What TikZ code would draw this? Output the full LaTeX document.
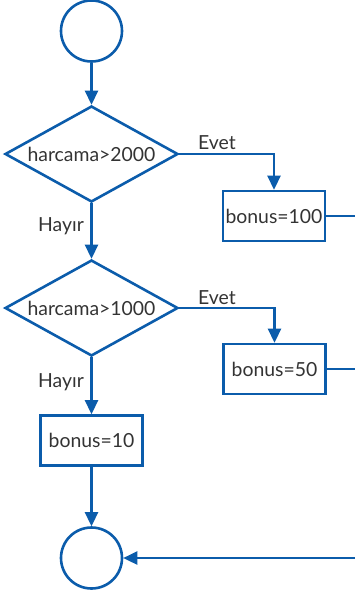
\documentclass[tikz,border=0pt]{standalone}
\usepackage{fontspec}
\setmainfont{Lato}
\usetikzlibrary{shapes.geometric,arrows.meta}
\definecolor{fblue}{HTML}{0B5CAB}
\definecolor{ftext}{HTML}{333333}
\begin{document}
\begin{tikzpicture}[x=1pt,y=-1pt,
  every node/.style={text=ftext,font=\fontsize{19.4}{22}\selectfont},
  conn/.style={draw=fblue,line width=2.6pt},
  arr/.style={conn,-{Triangle[length=14pt,width=13pt]}},
  term/.style={circle,draw=fblue,line width=2.6pt,minimum size=61pt,inner sep=0pt},
  dec/.style={diamond,draw=fblue,line width=2.6pt,aspect=1.78,minimum width=173pt,minimum height=96pt,inner sep=0pt},
  proc/.style={rectangle,draw=fblue,line width=2.6pt,minimum width=102pt,minimum height=50pt,inner sep=0pt},
  lbl/.style={inner sep=0pt}]
\useasboundingbox (0,0) rectangle (354,598);
\node[term] (start) at (91.5,31) {};
\node[dec] (d1) at (91.5,154) {harcama>2000};
\node[proc] (b1) at (274,216) {bonus=100};
\node[dec] (d2) at (91.5,308) {harcama>1000};
\node[proc] (b2) at (274.5,369) {bonus=50};
\node[proc] (b3) at (91.5,440.5) {bonus=10};
\node[term] (end) at (91.5,558) {};
\coordinate (r1) at (356,216);
\coordinate (r2) at (356,369);
\coordinate (r3) at (356,558);
\node[lbl] (e1) at (217,143) {Evet};
\node[lbl] (e2) at (217,298) {Evet};
\node[lbl] (h1) at (61,226) {Hayır};
\node[lbl] (h2) at (61,382) {Hayır};
\draw[arr] (start) -- (d1);
\draw[arr] (d1.east) -| (b1.north);
\draw[arr] (d1.south) -- (d2.north);
\draw[arr] (d2.east) -| (b2.north);
\draw[arr] (d2.south) -- (b3.north);
\draw[arr] (b3) -- (end);
\draw[conn] (b1.east) -- (r1);
\draw[conn] (b2.east) -- (r2);
\draw[arr] (r3) -- (end);
\end{tikzpicture}
\end{document}
